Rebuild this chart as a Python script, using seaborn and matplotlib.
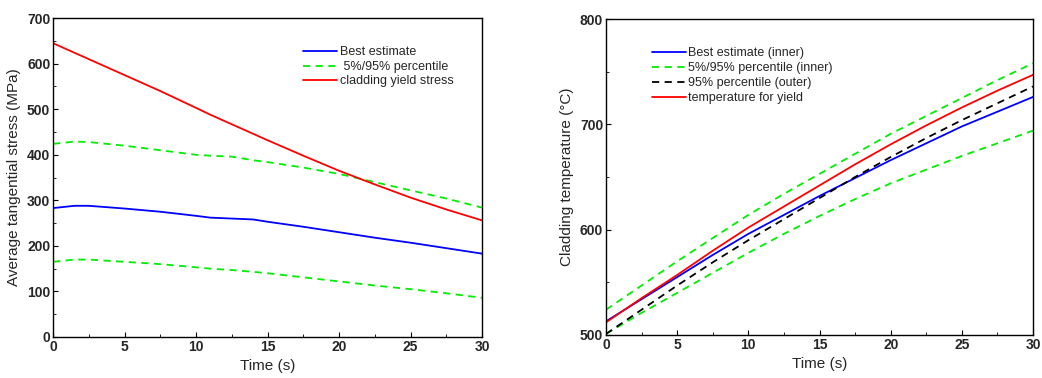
import matplotlib
matplotlib.use("Agg")
import matplotlib.pyplot as plt
import seaborn as sns
import pandas as pd
from matplotlib.ticker import MultipleLocator

sns.set_theme(style="white")
plt.rcParams['font.family'] = ['Liberation Sans', 'DejaVu Sans']

# ---- Left panel data ----
t_left = [0, 1.5, 2.5, 5, 7.5, 10, 11, 12.5, 14, 15, 17.5, 20, 22.5, 25, 27.5, 30]
best_stress = [283, 288, 288, 282, 275, 266, 262, 260, 258, 253, 242, 230, 218, 207, 195, 183]
p95_stress = [424, 429, 428, 420, 410, 400, 398, 396, 388, 384, 372, 358, 340, 322, 304, 284]
p5_stress = [165, 170, 170, 165, 160, 153, 150, 147, 143, 140, 131, 122, 113, 105, 96, 86]
yield_stress = [645, 624, 610, 575, 540, 503, 488, 467, 446, 432, 398, 365, 335, 306, 280, 256]

# ---- Right panel data ----
t_right = [0, 2.5, 5, 7.5, 10, 12.5, 15, 17.5, 20, 22.5, 25, 27.5, 30]
best_temp = [513, 534, 555, 576, 596, 614, 632, 649, 666, 682, 698, 712, 726]
p95_inner = [524, 547, 570, 592, 614, 634, 653, 672, 691, 708, 725, 742, 758]
p5_inner = [501, 521, 540, 559, 578, 596, 613, 629, 644, 657, 670, 682, 694]
p95_outer = [501, 524, 547, 569, 590, 610, 630, 650, 669, 687, 704, 720, 736]
yield_temp = [512, 535, 557, 580, 602, 622, 642, 662, 681, 699, 716, 732, 747]

fig = plt.figure(figsize=(10.42, 3.78), dpi=100)
ax1 = fig.add_axes([0.0509, 0.1085, 0.4117, 0.8435])
ax2 = fig.add_axes([0.5816, 0.1138, 0.4098, 0.8359])

dash = (4, 3)
df1 = pd.DataFrame({"t": t_left, "best": best_stress, "p95": p95_stress,
                    "p5": p5_stress, "yield": yield_stress})
sns.lineplot(data=df1, x="t", y="best", ax=ax1, color="#0000ff", lw=1.3,
             label="Best estimate")
sns.lineplot(data=df1, x="t", y="p95", ax=ax1, color="#00ee00", lw=1.3,
             label=" 5%/95% percentile").lines[-1].set_dashes(dash)
sns.lineplot(data=df1, x="t", y="p5", ax=ax1, color="#00ee00", lw=1.3).lines[-1].set_dashes(dash)
sns.lineplot(data=df1, x="t", y="yield", ax=ax1, color="#ff0000", lw=1.3,
             label="cladding yield stress")
ax1.set_xlim(0, 30)
ax1.set_ylim(0, 700)
ax1.set_xlabel("Time (s)", fontsize=11)
ax1.set_ylabel("Average tangential stress (MPa)", fontsize=11)
ax1.xaxis.set_major_locator(MultipleLocator(5))
ax1.xaxis.set_minor_locator(MultipleLocator(2.5))
ax1.yaxis.set_major_locator(MultipleLocator(100))
ax1.yaxis.set_minor_locator(MultipleLocator(50))
h, lab = ax1.get_legend_handles_labels()
ax1.legend(h, lab, loc="upper left", bbox_to_anchor=(0.572, 0.927), frameon=False,
           fontsize=9, handlelength=2.7, handletextpad=0.2, labelspacing=0.2,
           borderaxespad=0)

df2 = pd.DataFrame({"t": t_right, "best": best_temp, "p95i": p95_inner,
                    "p5i": p5_inner, "p95o": p95_outer, "yield": yield_temp})
sns.lineplot(data=df2, x="t", y="best", ax=ax2, color="#0000ff", lw=1.3,
             label="Best estimate (inner)")
sns.lineplot(data=df2, x="t", y="p95i", ax=ax2, color="#00ee00", lw=1.3,
             label="5%/95% percentile (inner)").lines[-1].set_dashes(dash)
sns.lineplot(data=df2, x="t", y="p5i", ax=ax2, color="#00ee00", lw=1.3).lines[-1].set_dashes(dash)
sns.lineplot(data=df2, x="t", y="p95o", ax=ax2, color="black", lw=1.3,
             label="95% percentile (outer)").lines[-1].set_dashes(dash)
sns.lineplot(data=df2, x="t", y="yield", ax=ax2, color="#ff0000", lw=1.3,
             label="temperature for yield")
ax2.set_xlim(0, 30)
ax2.set_ylim(500, 800)
ax2.set_xlabel("Time (s)", fontsize=11)
ax2.set_ylabel("Cladding temperature (°C)", fontsize=11)
ax2.xaxis.set_major_locator(MultipleLocator(5))
ax2.xaxis.set_minor_locator(MultipleLocator(2.5))
ax2.yaxis.set_major_locator(MultipleLocator(100))
ax2.yaxis.set_minor_locator(MultipleLocator(50))
h, lab = ax2.get_legend_handles_labels()
ax2.legend(h, lab, loc="upper left", bbox_to_anchor=(0.096, 0.927), frameon=False,
           fontsize=9, handlelength=2.7, handletextpad=0.2, labelspacing=0.25,
           borderaxespad=0)

for ax in (ax1, ax2):
    for s in ax.spines.values():
        s.set_visible(True)
        s.set_color("black")
        s.set_linewidth(1.0)
    ax.tick_params(axis="both", which="major", direction="in", length=3.5,
                   width=0.8, color="black", labelsize=10, pad=2,
                   bottom=True, left=True, top=False, right=False)
    ax.tick_params(axis="both", which="minor", direction="in", length=2,
                   width=0.6, color="black", bottom=True, left=True,
                   top=False, right=False)
    for lbl in ax.get_xticklabels() + ax.get_yticklabels():
        lbl.set_fontweight("bold")
    ax.grid(False)
    ax.set_facecolor("white")

fig.savefig("out.png", dpi=100)
